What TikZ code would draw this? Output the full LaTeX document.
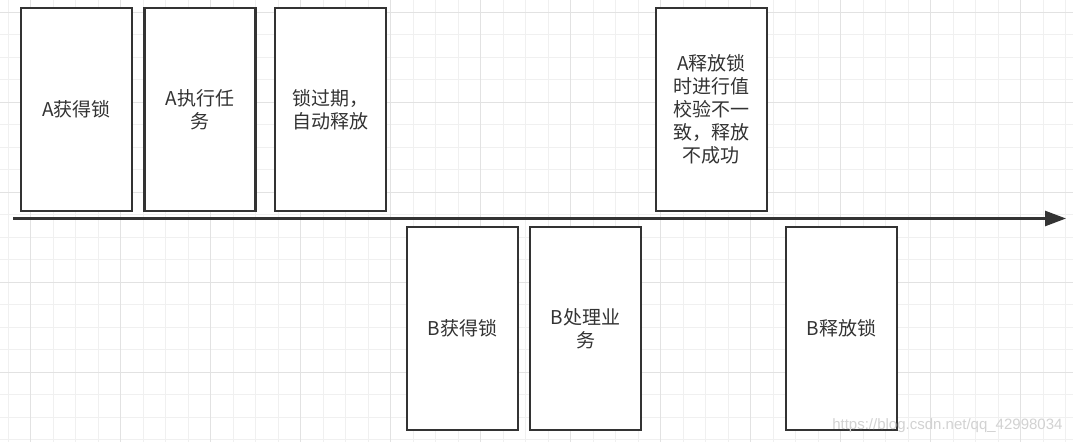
\documentclass[tikz,border=0pt]{standalone}
\usepackage{fontspec}
\setmainfont{Noto Sans CJK SC}
\newfontfamily\markfont{Liberation Sans}
\usetikzlibrary{arrows.meta}
\definecolor{boxline}{HTML}{333333}
\definecolor{gridminor}{HTML}{F0F0F0}
\definecolor{gridmajor}{HTML}{E2E2E2}
\begin{document}
\begin{tikzpicture}[x=1pt, y=-1pt,
  every node/.style={font=\fontsize{19}{23}\selectfont, text=boxline, align=center},
  event/.style={draw=boxline, line width=2.5pt, fill=white, minimum width=111pt, minimum height=203pt, inner sep=0pt},
  arrow/.style={-{Triangle[length=21pt,width=15pt]}, line width=2.5pt, draw=boxline}
]
\useasboundingbox (0,0) rectangle (1073,442);
\fill[white] (0,0) rectangle (1073,442);
\foreach \gx in {0,...,47} \draw[gridminor, line width=1pt] ({8.2+22.5*\gx},0) -- ++(0,442);
\foreach \gy in {0,...,19} \draw[gridminor, line width=1pt] (0,{12.3+22.5*\gy}) -- ++(1073,0);
\foreach \gx in {0,...,11} \draw[gridmajor, line width=1pt] ({30.7+90*\gx},0) -- ++(0,442);
\foreach \gy in {0,...,4} \draw[gridmajor, line width=1pt] (0,{12.3+90*\gy}) -- ++(1073,0);
\node[event] (alock) at (76.7,109.7) {A获得锁};
\node[event] (atask) at (199.8,109.7) {A执行任\\务};
\node[event] (expire) at (330.5,109.7) {锁过期，\\自动释放};
\node[event] (arelease) at (711.3,109.7) {A释放锁\\时进行值\\校验不一\\致，释放\\不成功};
\node[event] (block) at (462.3,328.7) {B获得锁};
\node[event] (btask) at (585.5,328.7) {B处理业\\务};
\node[event] (brelease) at (841.7,328.7) {B释放锁};
\coordinate (tstart) at (13,218.5);
\coordinate (tend) at (1066,218.5);
\draw[arrow] (tstart) -- (tend);
\node[text=gray!35, font=\markfont\fontsize{15}{15}\selectfont, anchor=east] (mark) at (1066,426) {https://blog.csdn.net/qq\_42998034};
\end{tikzpicture}
\end{document}
